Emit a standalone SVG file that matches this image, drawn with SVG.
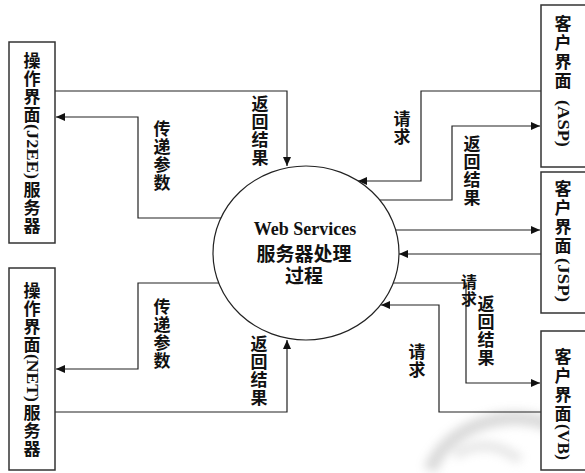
<svg xmlns="http://www.w3.org/2000/svg" width="585" height="473" viewBox="0 0 585 473">
<defs>
<marker id="ah" markerWidth="9" markerHeight="8" refX="9" refY="4" orient="auto" markerUnits="userSpaceOnUse"><path d="M0,0 L9,4 L0,8 z" fill="#111"/></marker>
<filter id="blur" x="-50%" y="-50%" width="200%" height="200%"><feGaussianBlur stdDeviation="5"/></filter>
<style>
.box{fill:#fff;stroke:#333;stroke-width:1.5}
.cj{font-family:"Noto Sans CJK SC","Noto Sans",sans-serif;font-weight:bold;font-size:17px;fill:#111;text-anchor:middle}
.lt{font-family:"Liberation Serif","Times New Roman",serif;font-weight:bold;font-size:17px;fill:#111}
.ln{fill:none;stroke:#222;stroke-width:1.2;marker-end:url(#ah)}
</style>
</defs>
<rect width="585" height="473" fill="#fff"/>
<g id="watermark" filter="url(#blur)" opacity="0.35">
<path d="M430,470 C450,420 520,405 560,430" fill="none" stroke="#999" stroke-width="14"/>
<path d="M455,455 C480,440 500,445 520,460" fill="none" stroke="#bbb" stroke-width="10"/>
<ellipse cx="575" cy="430" rx="14" ry="8" fill="#999"/>
</g>
<g id="connectors">
<path class="ln" d="M55,91 H287 V166"/>
<path class="ln" d="M221,218 H138 V117 H56"/>
<path class="ln" d="M219,283 H138 V369 H56"/>
<path class="ln" d="M55,412 H287 V340"/>
<path class="ln" d="M541,91 H421 V181 H358"/>
<path class="ln" d="M380,200 H452 V126 H540"/>
<path class="ln" d="M396,230 H540"/>
<path class="ln" d="M541,254 H399"/>
<path class="ln" d="M393,283 H466 V383 H540"/>
<path class="ln" d="M541,412 H439 V305 H381"/>
</g>
<g id="labels">
<text class="cj"><tspan x="260" y="110">返</tspan><tspan x="260" y="128">回</tspan><tspan x="260" y="146">结</tspan><tspan x="260" y="164">果</tspan></text>
<text class="cj"><tspan x="162" y="135">传</tspan><tspan x="162" y="153">递</tspan><tspan x="162" y="171">参</tspan><tspan x="162" y="189">数</tspan></text>
<text class="cj"><tspan x="162" y="313">传</tspan><tspan x="162" y="331">递</tspan><tspan x="162" y="349">参</tspan><tspan x="162" y="367">数</tspan></text>
<text class="cj"><tspan x="259" y="350">返</tspan><tspan x="259" y="368">回</tspan><tspan x="259" y="386">结</tspan><tspan x="259" y="404">果</tspan></text>
<text class="cj"><tspan x="402" y="125">请</tspan><tspan x="402" y="143">求</tspan></text>
<text class="cj"><tspan x="472" y="150">返</tspan><tspan x="472" y="168">回</tspan><tspan x="472" y="186">结</tspan><tspan x="472" y="204">果</tspan></text>
<text class="cj" style="font-size:16px"><tspan x="469" y="288">请</tspan><tspan x="469" y="305">求</tspan></text>
<text class="cj"><tspan x="486" y="310">返</tspan><tspan x="486" y="328">回</tspan><tspan x="486" y="346">结</tspan><tspan x="486" y="364">果</tspan></text>
<text class="cj"><tspan x="417" y="358">请</tspan><tspan x="417" y="376">求</tspan></text>
</g>
<g id="process">
<ellipse cx="306" cy="253" rx="93" ry="87" fill="#fff" stroke="#222" stroke-width="1.2"/>
<text class="lt" x="305" y="235" text-anchor="middle" style="font-size:18px">Web Services</text>
<text class="cj" x="304" y="261" style="font-size:19px">服务器处理</text>
<text class="cj" x="304" y="283" style="font-size:19px">过程</text>
</g>
<g id="j2ee">
<rect class="box" x="9" y="42" width="46" height="201"/>
<text class="cj"><tspan x="32" y="67">操</tspan><tspan x="32" y="85">作</tspan><tspan x="32" y="103">界</tspan><tspan x="32" y="121">面</tspan><tspan x="32" y="196">服</tspan><tspan x="32" y="214">务</tspan><tspan x="32" y="232">器</tspan></text>
<text class="lt" transform="translate(26.5,124) rotate(90)" textLength="55" lengthAdjust="spacingAndGlyphs">(J2EE)</text>
</g>
<g id="net">
<rect class="box" x="9" y="268" width="46" height="202"/>
<text class="cj"><tspan x="32" y="297">操</tspan><tspan x="32" y="315">作</tspan><tspan x="32" y="333">界</tspan><tspan x="32" y="351">面</tspan><tspan x="32" y="419">服</tspan><tspan x="32" y="437">务</tspan><tspan x="32" y="455">器</tspan></text>
<text class="lt" transform="translate(26.5,354) rotate(90)" textLength="48" lengthAdjust="spacingAndGlyphs">(NET)</text>
</g>
<g id="asp">
<rect class="box" x="541" y="5" width="50" height="162"/>
<text class="cj"><tspan x="563" y="30">客</tspan><tspan x="563" y="49">户</tspan><tspan x="563" y="68">界</tspan><tspan x="563" y="87">面</tspan></text>
<text class="lt" transform="translate(557.5,100) rotate(90)" textLength="47" lengthAdjust="spacingAndGlyphs">(ASP)</text>
</g>
<g id="jsp">
<rect class="box" x="541" y="172" width="50" height="141"/>
<text class="cj"><tspan x="563" y="195">客</tspan><tspan x="563" y="214">户</tspan><tspan x="563" y="233">界</tspan><tspan x="563" y="252">面</tspan></text>
<text class="lt" transform="translate(557.5,258) rotate(90)" textLength="44" lengthAdjust="spacingAndGlyphs">(JSP)</text>
</g>
<g id="vb">
<rect class="box" x="541" y="331" width="50" height="139"/>
<text class="cj"><tspan x="563" y="363">客</tspan><tspan x="563" y="382">户</tspan><tspan x="563" y="401">界</tspan><tspan x="563" y="420">面</tspan></text>
<text class="lt" transform="translate(557.5,424) rotate(90)" textLength="36" lengthAdjust="spacingAndGlyphs">(VB)</text>
</g>
</svg>
